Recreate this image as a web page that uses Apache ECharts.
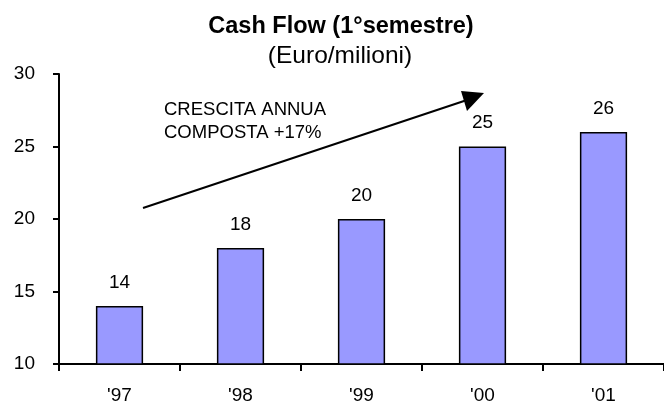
<!DOCTYPE html>
<html><head><meta charset="utf-8">
<script src="https://cdn.jsdelivr.net/npm/echarts@6/dist/echarts.min.js"></script>
<style>html,body{margin:0;padding:0;background:#fff}#c{width:664px;height:406px}</style>
</head><body><div id="c"></div>
<script>
const categories = ["'97", "'98", "'99", "'00", "'01"];
const values = [14, 18, 20, 25, 26];
const yTicks = [10, 15, 20, 25, 30];
const titleText = "Cash Flow (1°semestre)";
const subtitleText = "(Euro/milioni)";
const noteLines = ["CRESCITA ANNUA", "COMPOSTA +17%"];

const font = "Liberation Sans, Arial, sans-serif";
const chart = echarts.init(document.getElementById('c'));
chart.setOption({
  animation: false,
  backgroundColor: '#fff',
  title: [
    {text: titleText, left: 336, top: 10, textAlign: 'center',
     textStyle: {fontFamily: font, fontWeight: 'bold', fontSize: 23.5, color: '#000'}},
    {text: subtitleText, left: 335, top: 39, textAlign: 'center',
     textStyle: {fontFamily: font, fontWeight: 'normal', fontSize: 24.5, color: '#000'}}
  ],
  grid: {left: 59, right: -6, top: 74, bottom: 42, containLabel: false},
  xAxis: {
    type: 'category', data: categories, boundaryGap: true,
    axisLine: {lineStyle: {color: '#000', width: 2}},
    axisTick: {show: true, length: 7, lineStyle: {color: '#000', width: 2}},
    axisLabel: {color: '#000', fontFamily: font, fontSize: 19, margin: 22}
  },
  yAxis: {
    type: 'value', min: yTicks[0], max: yTicks[yTicks.length - 1], interval: 5,
    splitLine: {show: false},
    axisLine: {show: true, lineStyle: {color: '#000', width: 2}},
    axisTick: {show: true, length: 6, lineStyle: {color: '#000', width: 2}},
    axisLabel: {color: '#000', fontFamily: font, fontSize: 19, margin: 24}
  },
  series: [{
    type: 'bar', data: values, barWidth: '39%',
    itemStyle: {color: '#9999FF', borderColor: '#000', borderWidth: 1.5},
    label: {show: true, position: 'top', distance: 14, color: '#000', fontFamily: font, fontSize: 19}
  }],
  graphic: [
    {type: 'line', shape: {x1: 143, y1: 208, x2: 467, y2: 100}, style: {stroke: '#000', lineWidth: 2}},
    {type: 'polygon', shape: {points: [[484, 93], [461, 91], [467, 111]]}, style: {fill: '#000'}},
    {type: 'text', left: 164, top: 99, style: {text: noteLines.join('\n'), fontFamily: font, fontSize: 18.5, lineHeight: 22.5, fill: '#000'}}
  ]
});
</script></body></html>
